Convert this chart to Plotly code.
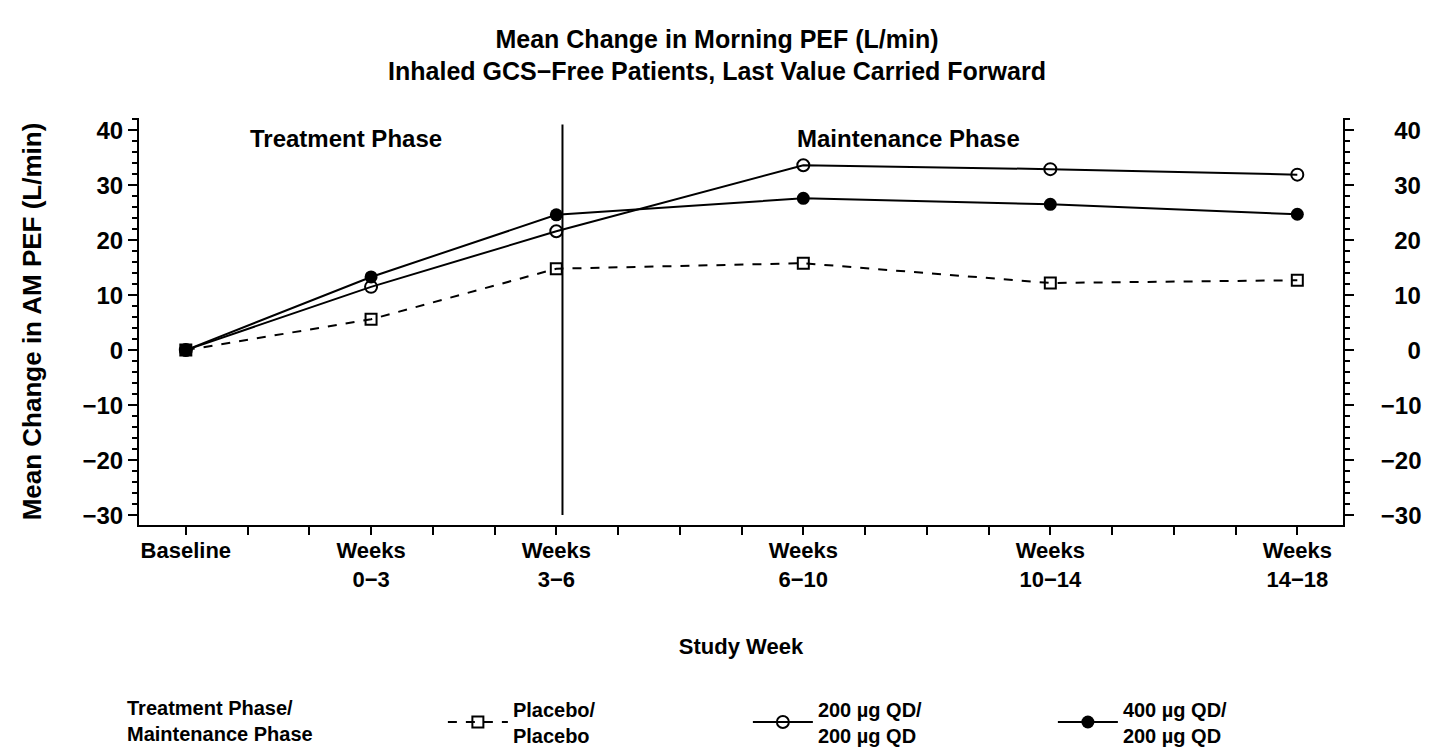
import plotly.graph_objects as go

# ---- data ----
weeks = [0, 3, 6, 10, 14, 18]
week_labels = ["Baseline", "Weeks<br>0\u22123", "Weeks<br>3\u22126", "Weeks<br>6\u221210",
               "Weeks<br>10\u221214", "Weeks<br>14\u221218"]
placebo = [0.0, 5.6, 14.8, 15.8, 12.2, 12.7]
qd200 = [0.0, 11.5, 21.6, 33.6, 32.9, 31.9]
qd400 = [0.0, 13.3, 24.6, 27.6, 26.5, 24.7]
series_names = ["Placebo/<br>Placebo", "200 \u00b5g QD/<br>200 \u00b5g QD", "400 \u00b5g QD/<br>200 \u00b5g QD"]
phase_split_week = 6.1
phase_labels = ["Treatment Phase", "Maintenance Phase"]
phase_label_weeks = [1.0, 11.71]
phase_label_anchor = ["left", "center"]
y_ticks = [-30, -20, -10, 0, 10, 20, 30, 40]

FONT = "Liberation Sans, Arial, Helvetica, sans-serif"


def bold(size):
    return dict(family=FONT, size=size, color="black", weight="bold")


fig = go.Figure()

fig.add_trace(go.Scatter(
    x=weeks, y=placebo, name=series_names[0], mode="lines+markers",
    line=dict(color="black", width=2, dash="dash"),
    marker=dict(symbol="square-open", size=11, color="black", line=dict(width=2)),
))
fig.add_trace(go.Scatter(
    x=weeks, y=qd200, name=series_names[1], mode="lines+markers",
    line=dict(color="black", width=2),
    marker=dict(symbol="circle-open", size=12, color="black", line=dict(width=2)),
))
fig.add_trace(go.Scatter(
    x=weeks, y=qd400, name=series_names[2], mode="lines+markers",
    line=dict(color="black", width=2),
    marker=dict(symbol="circle", size=13, color="black"),
))
# invisible trace to activate the right-hand axis
fig.add_trace(go.Scatter(x=weeks, y=qd400, yaxis="y2", mode="lines", opacity=0,
                         showlegend=False, hoverinfo="skip"))

# phase divider
fig.add_shape(type="line", xref="x", yref="y", x0=phase_split_week, x1=phase_split_week,
              y0=-30, y1=41, line=dict(color="black", width=2))

for lab, wk, anc in zip(phase_labels, phase_label_weeks, phase_label_anchor):
    fig.add_annotation(x=wk, y=38.5, xref="x", yref="y", text=lab, showarrow=False,
                       xanchor=anc, font=bold(24))

tickvals = list(range(0, 19))
ticktext = [week_labels[weeks.index(v)] if v in weeks else "" for v in tickvals]


# right-hand labels are right-aligned in the reference: pad with no-break spaces
def _fmt(v):
    return str(v).replace("-", "\u2212")


def _w(s):
    return sum(0.584 if ch == "\u2212" else 0.556 for ch in s)


_maxw = max(_w(_fmt(v)) for v in y_ticks)
right_text = ["&nbsp;" * int(round((_maxw - _w(_fmt(v))) / 0.278)) + _fmt(v) for v in y_ticks]

yrange = [-31.8, 42.2]
yaxis_common = dict(
    range=yrange, tickvals=y_ticks, ticks="outside", ticklen=9,
    tickwidth=2, showline=True, linewidth=2, linecolor="black", showgrid=False, zeroline=False,
    tickfont=bold(24), tickcolor="black",
    minor=dict(dtick=2, ticks="outside", ticklen=5, tickwidth=1.5, tickcolor="black"),
)

legend_title = "Treatment Phase/<br>Maintenance Phase" + "&nbsp;" * 22

fig.update_layout(
    width=1434, height=756,
    margin=dict(l=139, r=86, t=118, b=231),
    paper_bgcolor="white", plot_bgcolor="white",
    font=dict(family=FONT, color="black"),
    title=dict(text="Mean Change in Morning PEF (L/min)<br>Inhaled GCS\u2212Free Patients, Last Value Carried Forward",
               x=0.5, xanchor="center", y=0.937, yanchor="top", font=bold(25)),
    xaxis=dict(range=[-0.758, 18.74], tickvals=tickvals, ticktext=ticktext, ticks="outside",
               ticklen=8, tickwidth=2, tickcolor="black", showline=True, linewidth=2, linecolor="black",
               showgrid=False, zeroline=False, tickfont=bold(22), ticklabelstandoff=-3,
               title=dict(text="Study Week", font=bold(22), standoff=48)),
    yaxis=dict(**yaxis_common, side="left",
               title=dict(text="Mean Change in AM PEF (L/min)", font=bold(26), standoff=33)),
    yaxis2=dict(**yaxis_common, side="right", overlaying="y", matches="y",
                ticktext=right_text, ticklabelstandoff=22),
    showlegend=True,
    legend=dict(orientation="h", xref="container", yref="container", x=125 / 1434, y=0.088,
                xanchor="left", yanchor="top", font=bold(20), entrywidth=230,
                entrywidthmode="pixels", itemwidth=60,
                title=dict(text=legend_title, font=bold(20), side="left")),
)

fig.write_html("out.html")
